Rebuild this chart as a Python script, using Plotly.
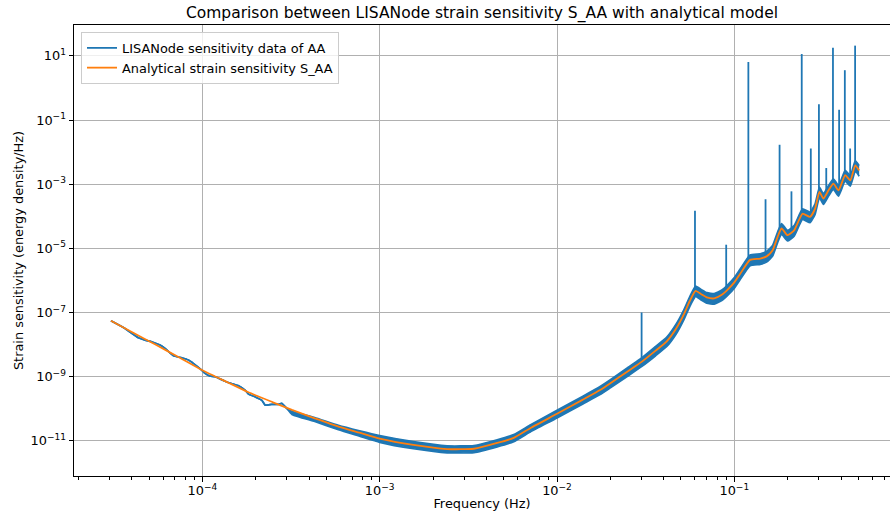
import plotly.graph_objects as go

# ---------------- data ----------------
# Analytical model S_AA (orange)
model_freq = [3.05e-5, 4.0e-5, 5.4e-5, 7.5e-5, 1.0e-4, 1.4e-4, 1.82e-4, 2.5e-4,
              3.2e-4, 4.3e-4, 5.85e-4, 7.7e-4, 1.0e-3, 1.55e-3, 2.4e-3, 3.4e-3,
              4.6e-3, 5.7e-3, 7.1e-3, 1.0e-2, 1.4e-2, 1.75e-2, 2.0e-2, 2.5e-2,
              3.0e-2, 3.6e-2, 4.16e-2, 4.7e-2, 5.2e-2, 5.6e-2, 6.05e-2, 6.5e-2,
              7.0e-2, 7.7e-2, 8.5e-2, 9.2e-2, 0.1, 0.1077, 0.1227, 0.14, 0.152,
              0.1645, 0.1755, 0.1847, 0.1995, 0.2175, 0.2424, 0.2674, 0.2855,
              0.302, 0.318, 0.340, 0.362, 0.387, 0.422, 0.451, 0.481, 0.506]
model_sens = [5.50e-8, 2.45e-8, 1.02e-8, 3.80e-9, 1.58e-9, 6.46e-10, 3.24e-10, 1.58e-10,
              9.12e-11, 5.01e-11, 2.75e-11, 1.78e-11, 1.17e-11, 7.41e-12, 5.50e-12, 5.62e-12,
              8.51e-12, 1.23e-11, 2.51e-11, 6.92e-11, 1.91e-10, 3.80e-10, 6.17e-10, 1.45e-9,
              2.88e-9, 6.46e-9, 1.26e-8, 3.16e-8, 8.91e-8, 2.24e-7, 4.68e-7, 3.72e-7,
              2.95e-7, 2.75e-7, 3.55e-7, 5.25e-7, 8.71e-7, 1.58e-6, 4.37e-6, 4.79e-6, 5.62e-6,
              8.71e-6, 2.29e-5, 4.17e-5, 2.57e-5, 3.63e-5, 1.20e-4, 9.55e-5, 1.74e-4,
              5.75e-4, 3.55e-4, 6.46e-4, 1.05e-3, 6.46e-4, 1.91e-3, 1.32e-3, 3.89e-3, 2.69e-3]

# LISANode data (blue): lower / upper edge of the noisy trace
data_freq = [3.05e-5, 3.66e-5, 4.36e-5, 4.75e-5, 5.18e-5, 5.77e-5, 6.16e-5, 6.87e-5,
             7.65e-5, 8.35e-5, 8.89e-5, 9.91e-5, 1.035e-4, 1.10e-4, 1.18e-4, 1.34e-4,
             1.46e-4, 1.60e-4, 1.74e-4, 1.82e-4, 1.98e-4, 2.16e-4, 2.26e-4, 2.46e-4,
             2.68e-4, 2.80e-4, 2.99e-4,
             3.2e-4, 4.3e-4, 5.85e-4, 7.7e-4, 1.0e-3, 1.55e-3, 2.4e-3, 3.4e-3,
             4.6e-3, 5.7e-3, 7.1e-3, 1.0e-2, 1.4e-2, 1.75e-2, 2.0e-2, 2.5e-2,
             3.0e-2, 3.6e-2, 4.16e-2, 4.7e-2, 5.2e-2, 5.6e-2, 6.05e-2, 6.5e-2,
             7.0e-2, 7.7e-2, 8.5e-2, 9.2e-2, 0.1, 0.1077, 0.1227, 0.14, 0.152,
             0.1645, 0.1755, 0.1847, 0.1995, 0.2175, 0.2424, 0.2674, 0.2855,
             0.302, 0.318, 0.340, 0.362, 0.387, 0.422, 0.451, 0.481, 0.506]
data_lo = [5.48e-8, 3.17e-8, 1.62e-8, 1.37e-8, 1.22e-8, 9.6e-9, 7.6e-9, 4.46e-9,
           3.86e-9, 3.27e-9, 2.58e-9, 1.59e-9, 1.26e-9, 1.04e-9, 9.9e-10, 7.2e-10,
           6.1e-10, 5.18e-10, 3.8e-10, 2.85e-10, 2.35e-10, 1.85e-10, 1.29e-10, 1.36e-10,
           1.36e-10, 1.46e-10, 1.02e-10,
           6.61e-11, 3.98e-11, 2.19e-11, 1.38e-11, 8.91e-12, 5.62e-12, 4.17e-12, 4.27e-12,
           6.46e-12, 9.33e-12, 1.91e-11, 5.13e-11, 1.41e-10, 2.75e-10, 4.47e-10, 1.02e-9,
           2.04e-9, 4.47e-9, 8.71e-9, 2.14e-8, 6.03e-8, 1.51e-7, 3.16e-7, 2.45e-7,
           1.95e-7, 1.82e-7, 2.34e-7, 3.47e-7, 5.75e-7, 1.05e-6, 2.88e-6, 3.16e-6, 3.72e-6,
           5.75e-6, 1.51e-5, 2.75e-5, 1.70e-5, 2.40e-5, 7.94e-5, 6.31e-5, 1.15e-4,
           3.80e-4, 2.34e-4, 4.27e-4, 6.92e-4, 4.27e-4, 1.26e-3, 8.71e-4, 2.57e-3, 1.78e-3]
data_hi = [5.48e-8, 3.17e-8, 1.62e-8, 1.37e-8, 1.22e-8, 9.6e-9, 7.6e-9, 4.46e-9,
           3.86e-9, 3.27e-9, 2.58e-9, 1.59e-9, 1.26e-9, 1.04e-9, 9.9e-10, 7.2e-10,
           6.1e-10, 5.18e-10, 3.8e-10, 2.85e-10, 2.35e-10, 1.85e-10, 1.29e-10, 1.36e-10,
           1.36e-10, 1.46e-10, 1.02e-10,
           8.32e-11, 5.25e-11, 3.02e-11, 2.04e-11, 1.45e-11, 9.33e-12, 6.92e-12, 7.08e-12,
           1.07e-11, 1.55e-11, 3.16e-11, 8.91e-11, 2.45e-10, 4.90e-10, 7.94e-10, 1.91e-9,
           3.80e-9, 8.71e-9, 1.70e-8, 4.37e-8, 1.23e-7, 3.09e-7, 6.61e-7, 5.25e-7,
           4.17e-7, 3.89e-7, 5.01e-7, 7.41e-7, 1.23e-6, 2.24e-6, 6.17e-6, 6.76e-6, 7.94e-6,
           1.23e-5, 3.24e-5, 5.89e-5, 3.63e-5, 5.13e-5, 1.70e-4, 1.35e-4, 2.45e-4,
           8.13e-4, 5.01e-4, 9.12e-4, 1.48e-3, 9.12e-4, 2.69e-3, 1.86e-3, 5.50e-3, 3.80e-3]

# Narrow spectral lines in the data (blue spikes)
line_freq = [0.03, 0.06, 0.09, 0.12, 0.15, 0.18, 0.21, 0.24, 0.27, 0.30,
             0.33, 0.36, 0.39, 0.42, 0.45, 0.48]
line_base = [2.9e-9, 4.4e-7, 5.0e-7, 4.2e-6, 5.4e-6, 3.5e-5, 3.2e-5, 1.2e-4, 1.0e-4, 5.6e-4,
             5.0e-4, 1.0e-3, 6.8e-4, 1.9e-3, 1.35e-3, 3.8e-3]
line_top = [1.0e-7, 1.5e-4, 1.3e-5, 6.5, 3.4e-4, 1.7e-2, 6.0e-4, 11.5, 1.3e-2, 0.31,
            3.2e-3, 18.0, 0.21, 3.6, 1.3e-2, 21.0]

# Axis ticks
x_tick_vals = [1e-4, 1e-3, 1e-2, 1e-1]
x_tick_text = ["10<sup>−4</sup>", "10<sup>−3</sup>", "10<sup>−2</sup>", "10<sup>−1</sup>"]
x_minor_vals = [2e-5, 3e-5, 4e-5, 5e-5, 6e-5, 7e-5, 8e-5, 9e-5,
                2e-4, 3e-4, 4e-4, 5e-4, 6e-4, 7e-4, 8e-4, 9e-4,
                2e-3, 3e-3, 4e-3, 5e-3, 6e-3, 7e-3, 8e-3, 9e-3,
                2e-2, 3e-2, 4e-2, 5e-2, 6e-2, 7e-2, 8e-2, 9e-2,
                2e-1, 3e-1, 4e-1, 5e-1, 6e-1, 7e-1]
y_tick_vals = [1e1, 1e-1, 1e-3, 1e-5, 1e-7, 1e-9, 1e-11]
y_tick_text = ["10<sup>1</sup>", "10<sup>−1</sup>", "10<sup>−3</sup>", "10<sup>−5</sup>",
               "10<sup>−7</sup>", "10<sup>−9</sup>", "10<sup>−11</sup>"]

BLUE = "#1f77b4"
ORANGE = "#ff7f0e"
FONT = "DejaVu Sans"
FS = 12.9

fig = go.Figure()
fig.add_trace(go.Scatter(x=data_freq, y=data_lo, mode="lines",
                         line=dict(color=BLUE, width=1.7, shape="spline", smoothing=0.4),
                         showlegend=False, hoverinfo="skip"))
fig.add_trace(go.Scatter(x=data_freq, y=data_hi, mode="lines", fill="tonexty",
                         fillcolor=BLUE,
                         line=dict(color=BLUE, width=1.7, shape="spline", smoothing=0.4),
                         showlegend=False, hoverinfo="skip"))

spike_x, spike_y = [], []
for f, b, t in zip(line_freq, line_base, line_top):
    spike_x += [f, f, None]
    spike_y += [b, t, None]
fig.add_trace(go.Scatter(x=spike_x, y=spike_y, mode="lines",
                         line=dict(color=BLUE, width=1.8),
                         name="LISANode sensitivity data of AA"))
fig.add_trace(go.Scatter(x=model_freq, y=model_sens, mode="lines",
                         line=dict(color=ORANGE, width=1.8, shape="spline", smoothing=0.5),
                         name="Analytical strain sensitivity S_AA"))

axis_common = dict(
    type="log", showgrid=True, gridcolor="#b0b0b0", gridwidth=1,
    showline=True, linecolor="black", linewidth=1,
    ticks="outside", ticklen=4.5, tickwidth=1, tickcolor="black",
    zeroline=False, automargin=False,
    tickfont=dict(family=FONT, size=FS, color="black"),
)

fig.update_layout(
    width=890, height=517,
    margin=dict(l=74, r=0, t=25, b=41),
    paper_bgcolor="white", plot_bgcolor="white",
    font=dict(family=FONT, size=FS, color="black"),
    title=dict(text="Comparison between LISANode strain sensitivity S_AA with analytical model",
               font=dict(family=FONT, size=15.5, color="black"),
               x=0.5, xref="paper", xanchor="center",
               y=1 - 13 / 517, yref="container", yanchor="middle"),
    xaxis=dict(axis_common, range=[-4.724, -0.122], mirror=True,
               tickmode="array", tickvals=x_tick_vals, ticktext=x_tick_text,
               ticklabelstandoff=-2,
               minor=dict(tickmode="array", tickvals=x_minor_vals, ticks="outside",
                          ticklen=2.6, tickwidth=0.8, tickcolor="black", showgrid=False),
               title=dict(text="Frequency (Hz)", font=dict(family=FONT, size=FS), standoff=1)),
    yaxis=dict(axis_common, range=[-12.10, 1.966],
               tickmode="array", tickvals=y_tick_vals, ticktext=y_tick_text,
               title=dict(text="Strain sensitivity (energy density/Hz)",
                          font=dict(family=FONT, size=FS), standoff=3)),
    legend=dict(x=0.0086, y=0.9845, xanchor="left", yanchor="top", traceorder="normal",
                bgcolor="rgba(255,255,255,0.8)", bordercolor="#cccccc", borderwidth=1,
                font=dict(family=FONT, size=FS, color="black"), tracegroupgap=0),
    showlegend=True,
)

fig.write_html("out.html", config={"displayModeBar": False},
               post_script="document.body.style.margin='0px';")
